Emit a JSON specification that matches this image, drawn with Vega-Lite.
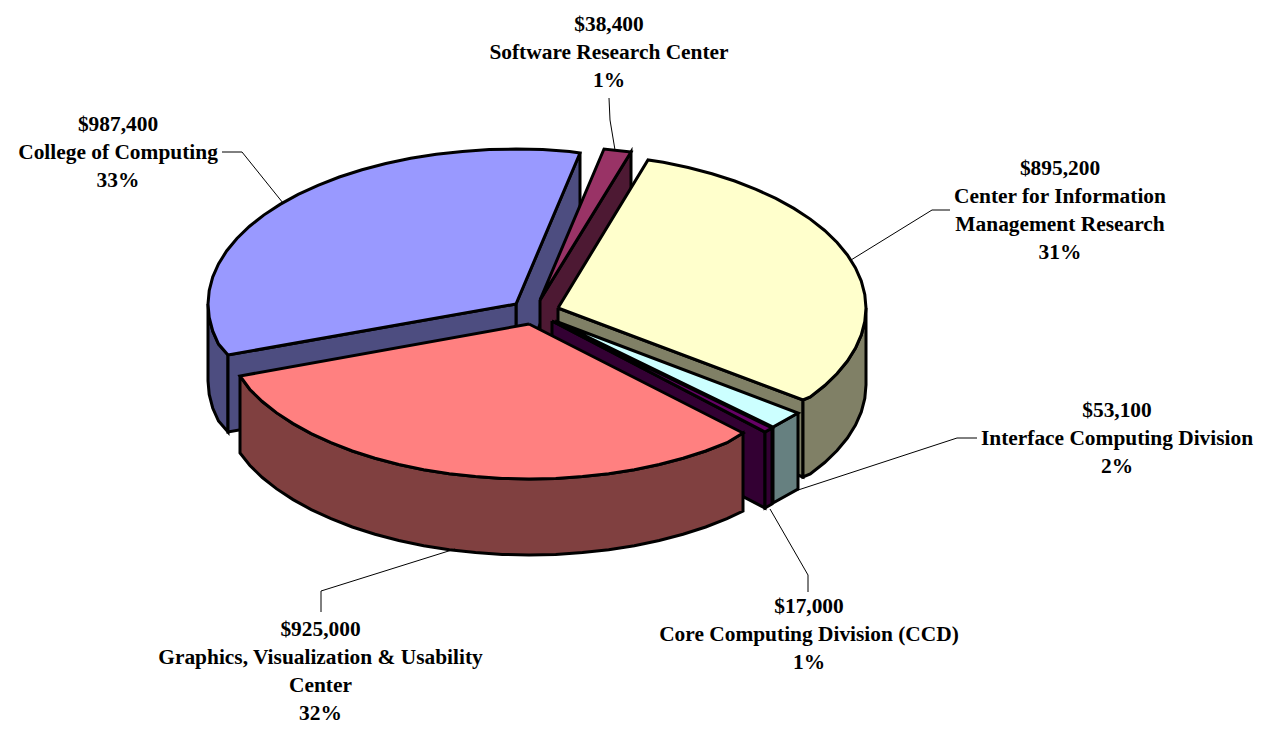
{"$schema":"https://vega.github.io/schema/vega-lite/v6.json","width":1268,"height":734,"autosize":{"type":"none"},"padding":0,"background":"white","config":{"view":{"stroke":null}},
"datasets":{"faces":[
{"part":"College wall","i":0,"x":208,"y":304},{"part":"College wall","i":1,"x":209.2,"y":317.5},{"part":"College wall","i":2,"x":212.7,"y":331},{"part":"College wall","i":3,"x":218.5,"y":344},{"part":"College wall","i":4,"x":228,"y":355},{"part":"College wall","i":5,"x":228,"y":432},{"part":"College wall","i":6,"x":218.5,"y":421},{"part":"College wall","i":7,"x":212.7,"y":408},{"part":"College wall","i":8,"x":209.2,"y":394.5},{"part":"College wall","i":9,"x":208,"y":381},{"part":"College wall","i":10,"x":208,"y":304},
{"part":"College cut right","i":0,"x":516,"y":304},{"part":"College cut right","i":1,"x":580,"y":153},{"part":"College cut right","i":2,"x":580,"y":230},{"part":"College cut right","i":3,"x":516,"y":381},{"part":"College cut right","i":4,"x":516,"y":304},
{"part":"College cut front","i":0,"x":516,"y":304},{"part":"College cut front","i":1,"x":228,"y":355},{"part":"College cut front","i":2,"x":228,"y":432},{"part":"College cut front","i":3,"x":516,"y":381},{"part":"College cut front","i":4,"x":516,"y":304},
{"part":"College top","i":0,"x":516,"y":304},{"part":"College top","i":1,"x":580,"y":153},{"part":"College top","i":2,"x":569.5,"y":151.4},{"part":"College top","i":3,"x":542.8,"y":149.6},{"part":"College top","i":4,"x":516,"y":149},{"part":"College top","i":5,"x":489.2,"y":149.6},{"part":"College top","i":6,"x":462.5,"y":151.4},{"part":"College top","i":7,"x":436.3,"y":154.3},{"part":"College top","i":8,"x":410.7,"y":158.3},{"part":"College top","i":9,"x":385.8,"y":163.5},{"part":"College top","i":10,"x":362,"y":169.8},{"part":"College top","i":11,"x":339.3,"y":177},{"part":"College top","i":12,"x":318,"y":185.3},{"part":"College top","i":13,"x":298.2,"y":194.4},{"part":"College top","i":14,"x":280.1,"y":204.4},{"part":"College top","i":15,"x":263.7,"y":215.1},{"part":"College top","i":16,"x":249.3,"y":226.5},{"part":"College top","i":17,"x":236.9,"y":238.5},{"part":"College top","i":18,"x":226.6,"y":251},{"part":"College top","i":19,"x":218.5,"y":263.9},{"part":"College top","i":20,"x":212.7,"y":277.1},{"part":"College top","i":21,"x":209.2,"y":290.5},{"part":"College top","i":22,"x":208,"y":304},{"part":"College top","i":23,"x":209.2,"y":317.5},{"part":"College top","i":24,"x":212.7,"y":330.9},{"part":"College top","i":25,"x":218.5,"y":344.1},{"part":"College top","i":26,"x":228,"y":355},{"part":"College top","i":27,"x":516,"y":304},
{"part":"Software side","i":0,"x":540,"y":300},{"part":"Software side","i":1,"x":631,"y":152},{"part":"Software side","i":2,"x":631,"y":229},{"part":"Software side","i":3,"x":540,"y":377},{"part":"Software side","i":4,"x":540,"y":300},
{"part":"Software top","i":0,"x":540,"y":300},{"part":"Software top","i":1,"x":604,"y":149},{"part":"Software top","i":2,"x":631,"y":152},{"part":"Software top","i":3,"x":540,"y":300},
{"part":"CIMR cut","i":0,"x":558,"y":308},{"part":"CIMR cut","i":1,"x":803,"y":400},{"part":"CIMR cut","i":2,"x":803,"y":477},{"part":"CIMR cut","i":3,"x":558,"y":385},{"part":"CIMR cut","i":4,"x":558,"y":308},
{"part":"CIMR wall","i":0,"x":866,"y":308},{"part":"CIMR wall","i":1,"x":864.8,"y":321.5},{"part":"CIMR wall","i":2,"x":861.3,"y":334.9},{"part":"CIMR wall","i":3,"x":855.5,"y":348.1},{"part":"CIMR wall","i":4,"x":847.4,"y":361},{"part":"CIMR wall","i":5,"x":837.1,"y":373.5},{"part":"CIMR wall","i":6,"x":824.7,"y":385.5},{"part":"CIMR wall","i":7,"x":810.3,"y":396.9},{"part":"CIMR wall","i":8,"x":803,"y":400},{"part":"CIMR wall","i":9,"x":803,"y":477},{"part":"CIMR wall","i":10,"x":810.3,"y":473.9},{"part":"CIMR wall","i":11,"x":824.7,"y":462.5},{"part":"CIMR wall","i":12,"x":837.1,"y":450.5},{"part":"CIMR wall","i":13,"x":847.4,"y":438},{"part":"CIMR wall","i":14,"x":855.5,"y":425.1},{"part":"CIMR wall","i":15,"x":861.3,"y":411.9},{"part":"CIMR wall","i":16,"x":864.8,"y":398.5},{"part":"CIMR wall","i":17,"x":866,"y":385},{"part":"CIMR wall","i":18,"x":866,"y":308},
{"part":"CIMR top","i":0,"x":558,"y":308},{"part":"CIMR top","i":1,"x":648,"y":160},{"part":"CIMR top","i":2,"x":663.3,"y":162.3},{"part":"CIMR top","i":3,"x":688.2,"y":167.5},{"part":"CIMR top","i":4,"x":712,"y":173.8},{"part":"CIMR top","i":5,"x":734.7,"y":181},{"part":"CIMR top","i":6,"x":756,"y":189.3},{"part":"CIMR top","i":7,"x":775.8,"y":198.4},{"part":"CIMR top","i":8,"x":793.9,"y":208.4},{"part":"CIMR top","i":9,"x":810.3,"y":219.1},{"part":"CIMR top","i":10,"x":824.7,"y":230.5},{"part":"CIMR top","i":11,"x":837.1,"y":242.5},{"part":"CIMR top","i":12,"x":847.4,"y":255},{"part":"CIMR top","i":13,"x":855.5,"y":267.9},{"part":"CIMR top","i":14,"x":861.3,"y":281.1},{"part":"CIMR top","i":15,"x":864.8,"y":294.5},{"part":"CIMR top","i":16,"x":866,"y":308},{"part":"CIMR top","i":17,"x":864.8,"y":321.5},{"part":"CIMR top","i":18,"x":861.3,"y":334.9},{"part":"CIMR top","i":19,"x":855.5,"y":348.1},{"part":"CIMR top","i":20,"x":847.4,"y":361},{"part":"CIMR top","i":21,"x":837.1,"y":373.5},{"part":"CIMR top","i":22,"x":824.7,"y":385.5},{"part":"CIMR top","i":23,"x":810.3,"y":396.9},{"part":"CIMR top","i":24,"x":803,"y":400},{"part":"CIMR top","i":25,"x":558,"y":308},
{"part":"Interface wall","i":0,"x":798,"y":413},{"part":"Interface wall","i":1,"x":773,"y":427},{"part":"Interface wall","i":2,"x":773,"y":503},{"part":"Interface wall","i":3,"x":798,"y":489},{"part":"Interface wall","i":4,"x":798,"y":413},
{"part":"Interface top","i":0,"x":555,"y":321},{"part":"Interface top","i":1,"x":798,"y":413},{"part":"Interface top","i":2,"x":773,"y":427},{"part":"Interface top","i":3,"x":555,"y":321},
{"part":"Core cut","i":0,"x":552,"y":321},{"part":"Core cut","i":1,"x":765,"y":432},{"part":"Core cut","i":2,"x":765,"y":508},{"part":"Core cut","i":3,"x":552,"y":397},{"part":"Core cut","i":4,"x":552,"y":321},
{"part":"Core wall","i":0,"x":772,"y":428},{"part":"Core wall","i":1,"x":765,"y":432},{"part":"Core wall","i":2,"x":765,"y":508},{"part":"Core wall","i":3,"x":772,"y":504},{"part":"Core wall","i":4,"x":772,"y":428},
{"part":"Core top","i":0,"x":552,"y":321},{"part":"Core top","i":1,"x":772,"y":428},{"part":"Core top","i":2,"x":765,"y":432},{"part":"Core top","i":3,"x":552,"y":321},
{"part":"Graphics wall","i":0,"x":240,"y":376},{"part":"Graphics wall","i":1,"x":249.9,"y":389.5},{"part":"Graphics wall","i":2,"x":262.3,"y":401.5},{"part":"Graphics wall","i":3,"x":276.7,"y":412.9},{"part":"Graphics wall","i":4,"x":293.1,"y":423.6},{"part":"Graphics wall","i":5,"x":311.2,"y":433.6},{"part":"Graphics wall","i":6,"x":331,"y":442.7},{"part":"Graphics wall","i":7,"x":352.3,"y":451},{"part":"Graphics wall","i":8,"x":375,"y":458.2},{"part":"Graphics wall","i":9,"x":398.8,"y":464.5},{"part":"Graphics wall","i":10,"x":423.7,"y":469.7},{"part":"Graphics wall","i":11,"x":449.3,"y":473.7},{"part":"Graphics wall","i":12,"x":475.5,"y":476.6},{"part":"Graphics wall","i":13,"x":502.2,"y":478.4},{"part":"Graphics wall","i":14,"x":529,"y":479},{"part":"Graphics wall","i":15,"x":555.8,"y":478.4},{"part":"Graphics wall","i":16,"x":582.5,"y":476.6},{"part":"Graphics wall","i":17,"x":608.7,"y":473.7},{"part":"Graphics wall","i":18,"x":634.3,"y":469.7},{"part":"Graphics wall","i":19,"x":659.2,"y":464.5},{"part":"Graphics wall","i":20,"x":683,"y":458.2},{"part":"Graphics wall","i":21,"x":705.7,"y":451},{"part":"Graphics wall","i":22,"x":727,"y":442.7},{"part":"Graphics wall","i":23,"x":743,"y":433},{"part":"Graphics wall","i":24,"x":743,"y":511},{"part":"Graphics wall","i":25,"x":727,"y":518.7},{"part":"Graphics wall","i":26,"x":705.7,"y":527},{"part":"Graphics wall","i":27,"x":683,"y":534.2},{"part":"Graphics wall","i":28,"x":659.2,"y":540.5},{"part":"Graphics wall","i":29,"x":634.3,"y":545.7},{"part":"Graphics wall","i":30,"x":608.7,"y":549.7},{"part":"Graphics wall","i":31,"x":582.5,"y":552.6},{"part":"Graphics wall","i":32,"x":555.8,"y":554.4},{"part":"Graphics wall","i":33,"x":529,"y":555},{"part":"Graphics wall","i":34,"x":502.2,"y":554.4},{"part":"Graphics wall","i":35,"x":475.5,"y":552.6},{"part":"Graphics wall","i":36,"x":449.3,"y":549.7},{"part":"Graphics wall","i":37,"x":423.7,"y":545.7},{"part":"Graphics wall","i":38,"x":398.8,"y":540.5},{"part":"Graphics wall","i":39,"x":375,"y":534.2},{"part":"Graphics wall","i":40,"x":352.3,"y":527},{"part":"Graphics wall","i":41,"x":331,"y":518.7},{"part":"Graphics wall","i":42,"x":311.2,"y":509.6},{"part":"Graphics wall","i":43,"x":293.1,"y":499.6},{"part":"Graphics wall","i":44,"x":276.7,"y":488.9},{"part":"Graphics wall","i":45,"x":262.3,"y":477.5},{"part":"Graphics wall","i":46,"x":249.9,"y":465.5},{"part":"Graphics wall","i":47,"x":240,"y":453},{"part":"Graphics wall","i":48,"x":240,"y":376},
{"part":"Graphics top","i":0,"x":529,"y":324},{"part":"Graphics top","i":1,"x":240,"y":376},{"part":"Graphics top","i":2,"x":249.9,"y":389.5},{"part":"Graphics top","i":3,"x":262.3,"y":401.5},{"part":"Graphics top","i":4,"x":276.7,"y":412.9},{"part":"Graphics top","i":5,"x":293.1,"y":423.6},{"part":"Graphics top","i":6,"x":311.2,"y":433.6},{"part":"Graphics top","i":7,"x":331,"y":442.7},{"part":"Graphics top","i":8,"x":352.3,"y":451},{"part":"Graphics top","i":9,"x":375,"y":458.2},{"part":"Graphics top","i":10,"x":398.8,"y":464.5},{"part":"Graphics top","i":11,"x":423.7,"y":469.7},{"part":"Graphics top","i":12,"x":449.3,"y":473.7},{"part":"Graphics top","i":13,"x":475.5,"y":476.6},{"part":"Graphics top","i":14,"x":502.2,"y":478.4},{"part":"Graphics top","i":15,"x":529,"y":479},{"part":"Graphics top","i":16,"x":555.8,"y":478.4},{"part":"Graphics top","i":17,"x":582.5,"y":476.6},{"part":"Graphics top","i":18,"x":608.7,"y":473.7},{"part":"Graphics top","i":19,"x":634.3,"y":469.7},{"part":"Graphics top","i":20,"x":659.2,"y":464.5},{"part":"Graphics top","i":21,"x":683,"y":458.2},{"part":"Graphics top","i":22,"x":705.7,"y":451},{"part":"Graphics top","i":23,"x":727,"y":442.7},{"part":"Graphics top","i":24,"x":743,"y":433},{"part":"Graphics top","i":25,"x":529,"y":324}
],
"leaders":[
{"name":"Software","i":0,"x":609,"y":98},{"name":"Software","i":1,"x":610,"y":120},{"name":"Software","i":2,"x":615,"y":150},
{"name":"College","i":0,"x":222,"y":152},{"name":"College","i":1,"x":242,"y":152},{"name":"College","i":2,"x":283,"y":203},
{"name":"CIMR","i":0,"x":851,"y":260},{"name":"CIMR","i":1,"x":932,"y":210},{"name":"CIMR","i":2,"x":950,"y":210},
{"name":"Interface","i":0,"x":792,"y":492},{"name":"Interface","i":1,"x":957,"y":438},{"name":"Interface","i":2,"x":977,"y":438},
{"name":"Core","i":0,"x":770,"y":509},{"name":"Core","i":1,"x":808,"y":575},{"name":"Core","i":2,"x":808,"y":592},
{"name":"Graphics","i":0,"x":455,"y":549},{"name":"Graphics","i":1,"x":321,"y":591},{"name":"Graphics","i":2,"x":321,"y":612}
],
"labels":[
{"label":"$38,400\nSoftware Research Center\n1%","x":609,"y":25},
{"label":"$987,400\nCollege of Computing\n33%","x":118,"y":125},
{"label":"$895,200\nCenter for Information\nManagement Research\n31%","x":1060,"y":169},
{"label":"$53,100\nInterface Computing Division\n2%","x":1117,"y":411},
{"label":"$17,000\nCore Computing Division (CCD)\n1%","x":809,"y":607},
{"label":"$925,000\nGraphics, Visualization & Usability\nCenter\n32%","x":320.5,"y":630}
]},
"layer":[
{"data":{"name":"faces"},"mark":{"type":"line","stroke":"black","strokeWidth":3,"strokeJoin":"miter"},"encoding":{
"x":{"field":"x","type":"quantitative","scale":{"domain":[0,1268]},"axis":null},
"y":{"field":"y","type":"quantitative","scale":{"domain":[734,0]},"axis":null},
"order":{"field":"i","type":"ordinal"},
"detail":{"field":"part","type":"nominal"},
"fill":{"field":"part","type":"nominal","legend":null,"scale":{
"domain":["College wall","College cut right","College cut front","College top","Software side","Software top","CIMR cut","CIMR wall","CIMR top","Interface wall","Interface top","Core cut","Core wall","Core top","Graphics wall","Graphics top"],
"range":["#4D4D80","#4D4D80","#4D4D80","#9999FF","#4D1933","#993366","#808066","#808066","#FFFFCC","#668080","#CCFFFF","#330033","#330033","#660066","#804040","#FF8080"]}}}},
{"data":{"name":"leaders"},"mark":{"type":"line","stroke":"black","strokeWidth":1},"encoding":{
"x":{"field":"x","type":"quantitative","scale":{"domain":[0,1268]},"axis":null},
"y":{"field":"y","type":"quantitative","scale":{"domain":[734,0]},"axis":null},
"order":{"field":"i","type":"ordinal"},
"detail":{"field":"name","type":"nominal"}}},
{"data":{"name":"labels"},"mark":{"type":"text","font":"Liberation Serif","fontWeight":"bold","fontSize":21.4,"lineHeight":28,"lineBreak":"\n","align":"center","baseline":"middle","color":"black"},"encoding":{
"x":{"field":"x","type":"quantitative","scale":{"domain":[0,1268]},"axis":null},
"y":{"field":"y","type":"quantitative","scale":{"domain":[734,0]},"axis":null},
"text":{"field":"label","type":"nominal"}}}
]}
